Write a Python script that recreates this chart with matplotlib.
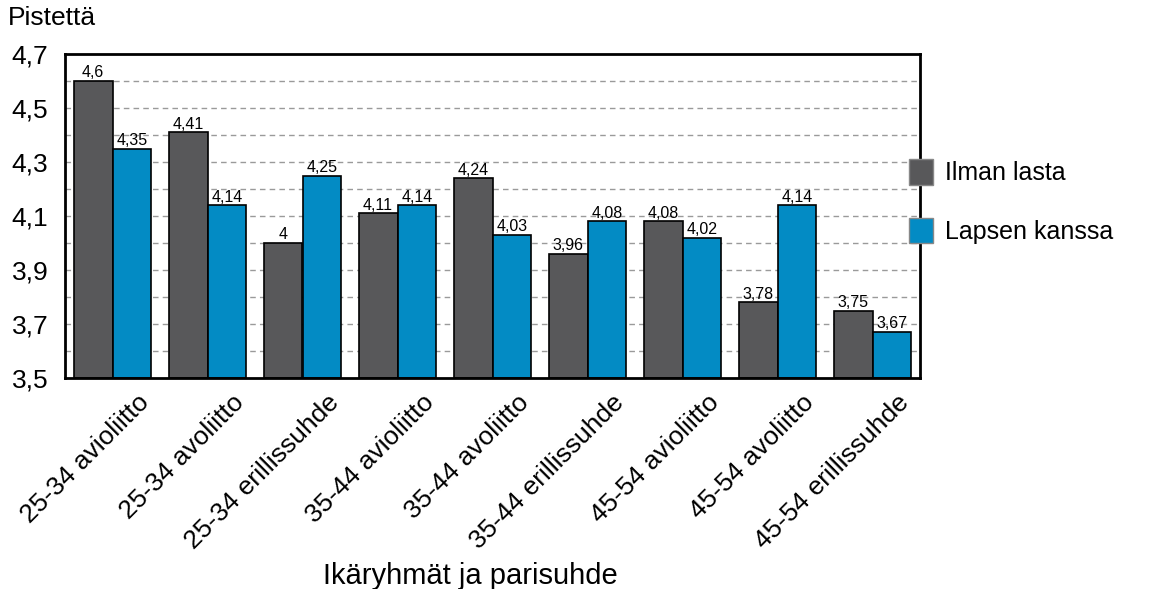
import matplotlib
matplotlib.use("Agg")
import matplotlib.pyplot as plt
import matplotlib.transforms as mtransforms
from matplotlib.patches import Patch
from matplotlib import font_manager

categories = ["25-34 avioliitto", "25-34 avoliitto", "25-34 erillissuhde",
              "35-44 avioliitto", "35-44 avoliitto", "35-44 erillissuhde",
              "45-54 avioliitto", "45-54 avoliitto", "45-54 erillissuhde"]
ilman_lasta = [4.6, 4.41, 4.0, 4.11, 4.24, 3.96, 4.08, 3.78, 3.75]
lapsen_kanssa = [4.35, 4.14, 4.25, 4.14, 4.03, 4.08, 4.02, 4.14, 3.67]
series_names = ["Ilman lasta", "Lapsen kanssa"]
yticks = [3.5, 3.7, 3.9, 4.1, 4.3, 4.5, 4.7]

col_gray = "#58585a"
col_blue = "#038bc4"

avail = {f.name for f in font_manager.fontManager.ttflist}
narrow = "Liberation Sans Narrow" if "Liberation Sans Narrow" in avail else "Liberation Sans"
plt.rcParams['font.family'] = ['Liberation Sans', 'DejaVu Sans']

fig = plt.figure(figsize=(11.71, 5.89), dpi=100)
ax = fig.add_axes([65/1171, 1-378/589, (920-65)/1171, (378-54)/589])

x = list(range(len(categories)))
w = 0.41
b1 = ax.bar([i - w/2 for i in x], [v - 3.5 for v in ilman_lasta], w, bottom=3.5,
            color=col_gray, edgecolor="black", linewidth=1.2, zorder=3)
b2 = ax.bar([i + w/2 for i in x], [v - 3.5 for v in lapsen_kanssa], w, bottom=3.5,
            color=col_blue, edgecolor="black", linewidth=1.2, zorder=3)

def fmt(v):
    s = ("%.2f" % v).rstrip("0").rstrip(".")
    return s.replace(".", ",")

for bars, vals in ((b1, ilman_lasta), (b2, lapsen_kanssa)):
    for rect, v in zip(bars, vals):
        ax.annotate(fmt(v), (rect.get_x() + rect.get_width()/2, v),
                    xytext=(0, 0.5), textcoords="offset points",
                    ha="center", va="bottom", fontsize=11.5, family=narrow, zorder=4)

ax.set_xlim(-0.5, len(categories) - 0.5)
ax.set_ylim(3.5, 4.7)
ax.set_yticks(yticks)
ax.set_yticklabels([("%.1f" % t).replace(".", ",") for t in yticks], fontsize=19)
for g in [3.6 + 0.1*k for k in range(11)]:
    ax.axhline(g, color="#9a9a9a", linestyle=(0, (4, 3)), linewidth=1.0, zorder=1)
ax.tick_params(axis="y", length=0, pad=12)
ax.tick_params(axis="x", length=0, pad=4)
for s in ax.spines.values():
    s.set_linewidth(2)
    s.set_color("black")
    s.set_zorder(5)

ax.set_xticks(x)
ax.set_xticklabels(categories, rotation=45, ha="right", rotation_mode="anchor",
                   fontsize=19)
offset = mtransforms.ScaledTranslation(24/100, -7/100, fig.dpi_scale_trans)
for lab in ax.get_xticklabels():
    lab.set_transform(lab.get_transform() + offset)

fig.text(8/1171, 1-18/589, "Pistettä", fontsize=19, ha="left", va="center")
fig.text(470/1171, 1-576/589, "Ikäryhmät ja parisuhde", fontsize=21, ha="center", va="center")

handles = [Patch(facecolor=col_gray, edgecolor="#888888"), Patch(facecolor=col_blue, edgecolor="#888888")]
fig.legend(handles, series_names, loc="upper left", bbox_to_anchor=(899/1171, 1-149/589),
           frameon=False, fontsize=18, handlelength=0.95, handleheight=1.2,
           handletextpad=0.48, labelspacing=1.3, borderaxespad=0)

fig.savefig("out.png", dpi=100)
